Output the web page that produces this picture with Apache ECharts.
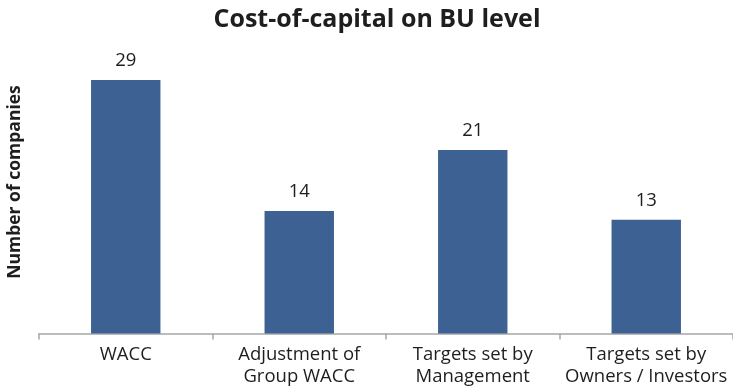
<!DOCTYPE html>
<html>
<head>
<meta charset="utf-8">
<script src="https://cdn.jsdelivr.net/npm/echarts@6/dist/echarts.min.js"></script>
<style>
  html, body { margin: 0; padding: 0; background: #fff; }
  #chart { width: 733px; height: 392px; }
</style>
</head>
<body>
<div id="chart"></div>
<script>
// Categories and counts for the cost-of-capital survey
const categories = [
  'WACC',
  'Adjustment of\nGroup WACC',
  'Targets set by\nManagement',
  'Targets set by\nOwners / Investors'
];
const companyCounts = [29, 14, 21, 13];

const chartTitle = 'Cost-of-capital on BU level';
const yAxisTitle = 'Number of companies';

const textColor = '#1e1e1e';
const barColor = '#3C6192';
const axisColor = '#A6A6A6';
const fontFamily = '"Open Sans", "Liberation Sans", sans-serif';

const chart = echarts.init(document.getElementById('chart'));
chart.setOption({
  animation: false,
  title: {
    text: chartTitle,
    left: 372,
    top: 2,
    textAlign: 'center',
    textStyle: { fontFamily, fontSize: 25, fontWeight: 'bold', color: textColor }
  },
  graphic: [{
    type: 'text',
    x: 15,
    y: 182,
    rotation: Math.PI / 2,
    style: {
      text: yAxisTitle,
      font: 'bold 17.5px ' + fontFamily,
      fill: textColor,
      align: 'center',
      verticalAlign: 'middle'
    }
  }],
  grid: { left: 39, right: 0, top: 45, height: 288.5 },
  xAxis: {
    type: 'category',
    data: categories,
    axisLine: { lineStyle: { color: axisColor, width: 1.5 } },
    axisTick: { show: true, length: 6, lineStyle: { color: axisColor, width: 1.5 } },
    axisLabel: {
      interval: 0,
      margin: 10,
      fontFamily,
      fontSize: 18.5,
      lineHeight: 22,
      color: textColor
    }
  },
  yAxis: {
    type: 'value',
    min: 0,
    max: 33,
    show: true,
    axisLine: { show: false },
    axisTick: { show: false },
    axisLabel: { show: false },
    splitLine: { show: false }
  },
  series: [{
    type: 'bar',
    data: companyCounts,
    barWidth: '40%',
    itemStyle: { color: barColor },
    label: {
      show: true,
      position: 'top',
      distance: 10,
      fontFamily,
      fontSize: 18.5,
      color: textColor
    }
  }]
});
</script>
</body>
</html>
